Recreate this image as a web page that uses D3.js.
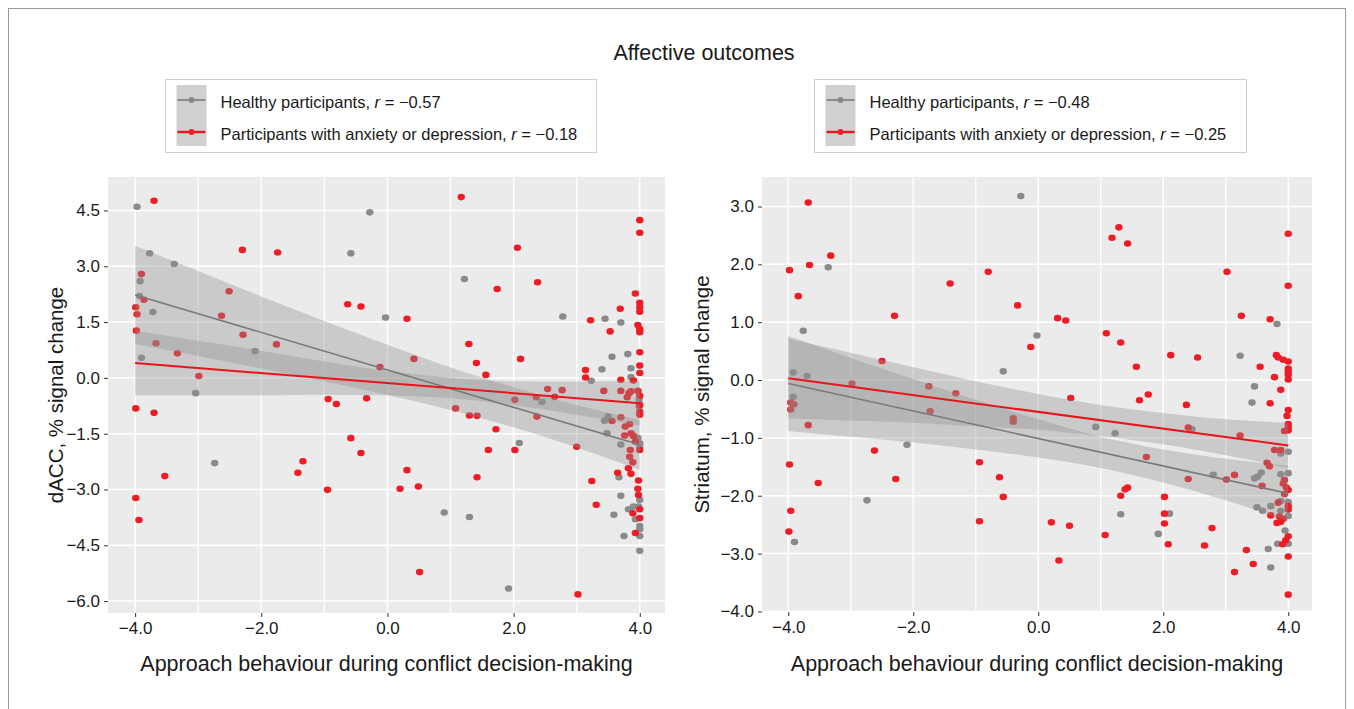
<!DOCTYPE html>
<html>
<head>
<meta charset="utf-8">
<script src="https://cdn.jsdelivr.net/npm/d3@7"></script>
<style>
  body { margin: 0; background: #fff; }
  svg text { font-family: "Liberation Sans", Arial, sans-serif; fill: #1a1a1a; }
</style>
</head>
<body>
<svg id="chart" width="1354" height="709"></svg>
<script>
// ---- data ----
const xTicks = [-4, -2, 0, 2, 4];
const xMinor = [-3, -1, 1, 3];
const leftYTicks = [4.5, 3.0, 1.5, 0.0, -1.5, -3.0, -4.5, -6.0];
const rightYTicks = [3.0, 2.0, 1.0, 0.0, -1.0, -2.0, -3.0, -4.0];

const leftHealthy = [
  [-3.97,4.60],[-3.77,3.35],[-3.38,3.06],[-3.92,2.60],[-3.93,2.20],[-3.72,1.77],[-3.90,0.54],
  [-3.04,-0.41],[-2.10,0.72],[-2.74,-2.29],[-0.28,4.45],[-0.58,3.35],[-0.03,1.62],[1.22,2.66],
  [2.78,1.65],[3.45,1.59],[3.70,1.49],[3.56,0.57],[3.81,0.64],[3.40,0.23],[3.86,0.26],[3.23,-0.08],
  [3.86,0.02],[3.99,-0.59],[3.99,-0.77],[2.45,-0.65],[3.50,-1.04],[3.44,-1.15],[3.97,-1.62],[4.0,-1.76],
  [4.0,-1.85],[3.70,-1.79],[3.48,-1.49],[2.09,-1.75],[3.67,-2.67],[4.0,-3.28],[3.98,-3.46],[3.70,-3.17],
  [3.90,-3.46],[3.82,-3.53],[3.59,-3.68],[3.93,-3.80],[4.0,-3.98],[4.0,-4.07],[4.0,-4.25],[3.75,-4.25],
  [4.0,-4.65],[0.90,-3.62],[1.30,-3.74],[1.92,-5.66]
];
const leftAnxiety = [
  [-3.70,4.76],[-2.30,3.44],[-1.74,3.37],[-3.90,2.79],[-3.86,2.10],[-3.99,1.90],[-3.97,1.71],[-3.98,1.27],
  [-3.67,0.93],[-3.33,0.66],[-2.99,0.05],[-3.99,-0.82],[-3.70,-0.94],[-2.51,2.33],[-2.63,1.67],[-2.29,1.16],
  [-1.76,0.90],[-0.63,1.98],[-0.42,1.92],[-0.12,0.29],[-0.94,-0.57],[-0.81,-0.70],[-0.33,-0.55],
  [1.17,4.86],[4.0,4.24],[4.0,3.90],[2.06,3.50],[1.74,2.39],[2.38,2.57],[0.31,1.59],[3.22,1.55],[3.69,1.86],
  [3.93,2.27],[4.0,2.02],[4.0,1.90],[4.0,1.78],[3.53,1.25],[3.97,1.42],[4.0,1.31],[4.0,1.23],[1.29,0.91],
  [0.42,0.51],[2.11,0.51],[1.41,0.40],[1.56,0.08],[4.0,0.69],[3.14,0.21],[3.14,0.01],[4.0,0.33],[4.0,0.13],
  [3.70,-0.05],[3.90,-0.07],[2.54,-0.30],[2.77,-0.33],[3.43,-0.35],[3.70,-0.35],[3.83,-0.41],[3.80,-0.52],
  [3.86,-0.36],[3.97,-0.35],[4.0,-0.48],[4.0,-0.73],[4.0,-0.91],[4.0,-0.99],[2.02,-0.59],[2.36,-0.52],
  [2.65,-0.51],[1.08,-0.82],[1.30,-1.01],[1.42,-1.02],[2.37,-1.04],[3.70,-1.06],[3.56,-1.16],[3.84,-1.24],
  [3.77,-1.31],[3.86,-1.49],[3.76,-1.55],[3.90,-1.56],[3.93,-1.71],[3.85,-1.94],[4.0,-1.94],[3.84,-2.12],
  [3.89,-2.27],[3.82,-2.43],[3.86,-2.58],[3.65,-2.55],[1.72,-1.38],[1.60,-1.94],[2.02,-1.94],[3.00,-1.85],
  [0.31,-2.48],[1.42,-2.67],[0.20,-2.98],[0.49,-2.92],[3.24,-2.77],[3.31,-3.41],[3.98,-2.76],[3.97,-2.98],
  [3.98,-3.15],[4.0,-3.53],[3.89,-3.64],[4.0,-3.77],[3.93,-4.17],[0.51,-5.22],[3.02,-5.82],[-0.58,-1.62],
  [-0.42,-2.02],[-1.34,-2.24],[-1.42,-2.55],[-3.53,-2.64],[-0.95,-3.01],[-3.99,-3.23],[-3.94,-3.82]
];
const rightHealthy = [
  [-0.28,3.18],[-3.36,1.95],[-3.76,0.85],[-0.56,0.15],[-3.92,0.13],[-3.70,0.07],[-3.92,-0.29],[-2.10,-1.12],
  [-2.74,-2.08],[-3.90,-2.80],[-0.02,0.77],[3.82,0.97],[3.23,0.42],[3.46,-0.11],[3.42,-0.39],[0.92,-0.81],
  [1.23,-0.92],[2.46,-0.85],[3.88,-1.27],[4.0,-1.24],[3.57,-1.60],[3.51,-1.67],[3.46,-1.70],[2.80,-1.64],
  [3.88,-1.63],[4.0,-1.61],[3.88,-2.09],[4.0,-2.11],[3.50,-2.20],[3.59,-2.26],[3.72,-2.18],[3.88,-2.26],
  [4.0,-2.35],[2.10,-2.31],[1.32,-2.32],[1.92,-2.66],[3.95,-2.60],[4.0,-2.83],[3.83,-2.83],[3.68,-2.92],
  [3.72,-3.24]
];
const rightAnxiety = [
  [-3.68,3.07],[-3.98,1.90],[-3.66,1.99],[-3.32,2.15],[-3.84,1.45],[-2.30,1.11],[-1.41,1.67],[-0.80,1.87],
  [-0.33,1.29],[-2.50,0.33],[-2.98,-0.06],[-1.75,-0.11],[-1.32,-0.23],[-3.96,-0.39],[-3.91,-0.42],[-3.96,-0.51],
  [-1.73,-0.54],[-0.40,-0.66],[-0.40,-0.72],[-3.68,-0.78],[-2.62,-1.22],[-3.98,-1.46],[-3.52,-1.78],[-2.28,-1.71],
  [-0.94,-1.42],[-0.62,-1.68],[-0.56,-2.02],[-0.94,-2.44],[-3.96,-2.26],[-3.99,-2.62],
  [1.29,2.64],[1.18,2.46],[1.43,2.36],[4.0,2.53],[3.02,1.87],[4.0,1.63],[0.31,1.07],[0.44,1.03],[-0.12,0.57],
  [1.09,0.81],[1.32,0.65],[3.25,1.11],[3.71,1.05],[1.57,0.23],[2.12,0.43],[2.55,0.39],[3.81,0.43],[3.84,0.39],
  [3.92,0.35],[4.0,0.32],[4.0,0.20],[4.0,0.14],[4.0,0.09],[4.0,0.01],[3.55,0.23],[3.78,0.05],[3.88,-0.17],
  [3.71,-0.40],[0.52,-0.31],[1.62,-0.35],[1.76,-0.25],[2.37,-0.43],[4.0,-0.52],[3.98,-0.62],[4.0,-0.76],
  [4.0,-0.82],[3.94,-0.88],[4.0,-0.87],[2.40,-0.82],[3.23,-0.96],[3.78,-1.21],[3.88,-1.21],[1.73,-1.33],
  [3.66,-1.43],[3.70,-1.49],[3.14,-1.64],[3.01,-1.72],[2.40,-1.71],[3.94,-1.73],[3.92,-1.79],[3.58,-1.83],
  [3.97,-1.86],[4.0,-1.90],[3.94,-1.97],[1.43,-1.86],[1.39,-1.89],[1.32,-2.00],[2.02,-2.02],[3.84,-2.12],
  [4.0,-2.18],[4.0,-2.24],[3.72,-2.34],[3.86,-2.36],[3.92,-2.40],[3.88,-2.45],[3.82,-2.47],[2.02,-2.31],
  [2.02,-2.48],[0.21,-2.46],[0.50,-2.52],[1.07,-2.68],[2.08,-2.84],[2.66,-2.86],[2.78,-2.56],[4.0,-2.70],
  [3.96,-2.77],[3.91,-2.84],[3.33,-2.94],[4.0,-3.05],[3.44,-3.18],[3.14,-3.32],[0.33,-3.12],[4.0,-3.71]
];

// regression fits (value at x = -4 and x = 4) and confidence bands
const fitX = [-4, 4];
const bandX = [-4, -3, -2, -1, 0, 1, 2, 3, 4];
const leftHealthyFit = [2.23, -1.80];
const leftHealthyUpper = [3.55, 2.87, 2.19, 1.53, 0.89, 0.28, -0.25, -0.73, -1.13];
const leftHealthyLower = [0.91, 0.59, 0.25, -0.09, -0.46, -0.86, -1.33, -1.87, -2.47];
const leftAnxietyFit = [0.40, -0.68];
const leftAnxietyUpper = [1.27, 1.00, 0.73, 0.44, 0.19, 0.00, -0.09, -0.10, -0.08];
const leftAnxietyLower = [-0.47, -0.47, -0.47, -0.45, -0.47, -0.55, -0.73, -0.99, -1.28];
const rightHealthyFit = [-0.06, -1.96];
const rightHealthyUpper = [0.76, 0.38, 0.02, -0.34, -0.68, -0.98, -1.20, -1.36, -1.48];
const rightHealthyLower = [-0.88, -0.98, -1.08, -1.20, -1.34, -1.52, -1.77, -2.08, -2.44];
const rightAnxietyFit = [0.03, -1.13];
const rightAnxietyUpper = [0.72, 0.47, 0.22, -0.02, -0.24, -0.43, -0.57, -0.68, -0.74];
const rightAnxietyLower = [-0.66, -0.70, -0.74, -0.80, -0.86, -0.97, -1.11, -1.30, -1.52];

const leftLegend = ["\u22120.57", "\u22120.18"];
const rightLegend = ["\u22120.48", "\u22120.25"];

const GREY_PT = "#8a8a8a", RED_PT = "#ee1c25", GREY_LN = "#7a7a7a", RED_LN = "#e8151d";
const fmt = v => d3.format(".1f")(v).replace("-", "\u2212");

const svg = d3.select("#chart");

// outer frame
svg.append("rect").attr("x", 8.5).attr("y", 8.5).attr("width", 1337).attr("height", 740)
  .attr("fill", "none").attr("stroke", "#9a9a9a").attr("stroke-width", 1);

svg.append("text").attr("x", 704).attr("y", 60).attr("text-anchor", "middle")
  .style("font-size", "21.5px").text("Affective outcomes");

function drawPanel(cfg) {
  const x = d3.scaleLinear().domain(cfg.xDomain).range([cfg.left, cfg.right]);
  const y = d3.scaleLinear().domain(cfg.yDomain).range([cfg.bottom, cfg.top]);
  const g = svg.append("g");

  g.append("rect").attr("x", cfg.left).attr("y", cfg.top)
    .attr("width", cfg.right - cfg.left).attr("height", cfg.bottom - cfg.top).attr("fill", "#ebebeb");

  g.selectAll(".gy").data(cfg.yTicks).enter().append("line")
    .attr("x1", cfg.left).attr("x2", cfg.right).attr("y1", d => y(d)).attr("y2", d => y(d))
    .attr("stroke", "#fff").attr("stroke-width", 1.5);
  g.selectAll(".gxm").data(xMinor).enter().append("line")
    .attr("y1", cfg.top).attr("y2", cfg.bottom).attr("x1", d => x(d)).attr("x2", d => x(d))
    .attr("stroke", "#fff").attr("stroke-width", 1.3);
  g.selectAll(".gx").data(xTicks).enter().append("line")
    .attr("y1", cfg.top).attr("y2", cfg.bottom).attr("x1", d => x(d)).attr("x2", d => x(d))
    .attr("stroke", "#fff").attr("stroke-width", 1.5);

  // points first, bands drawn over them
  const pts = g.append("g");
  pts.selectAll(".ph").data(cfg.healthy).enter().append("ellipse")
    .attr("cx", d => x(d[0])).attr("cy", d => y(d[1])).attr("rx", 3.7).attr("ry", 3.3).attr("fill", GREY_PT);
  pts.selectAll(".pa").data(cfg.anxiety).enter().append("ellipse")
    .attr("cx", d => x(d[0])).attr("cy", d => y(d[1])).attr("rx", 3.7).attr("ry", 3.3).attr("fill", RED_PT);

  const area = d3.area().x(d => x(d.x)).y0(d => y(d.lo)).y1(d => y(d.hi)).curve(d3.curveMonotoneX);
  [[cfg.hLower, cfg.hUpper], [cfg.aLower, cfg.aUpper]].forEach(([lo, hi]) => {
    g.append("path").datum(bandX.map((v, i) => ({x: v, lo: lo[i], hi: hi[i]})))
      .attr("d", area).attr("fill", "#8f8f8f").attr("fill-opacity", 0.36);
  });

  const line = d3.line().x(d => x(d[0])).y(d => y(d[1]));
  g.append("path").datum(fitX.map((v, i) => [v, cfg.hFit[i]])).attr("d", line)
    .attr("stroke", GREY_LN).attr("stroke-width", 1.6).attr("fill", "none");
  g.append("path").datum(fitX.map((v, i) => [v, cfg.aFit[i]])).attr("d", line)
    .attr("stroke", RED_LN).attr("stroke-width", 2).attr("fill", "none");

  // axes
  const xAxis = d3.axisBottom(x).tickValues(xTicks).tickFormat(fmt).tickSize(4).tickPadding(5);
  const yAxis = d3.axisLeft(y).tickValues(cfg.yTicks).tickFormat(fmt).tickSize(4).tickPadding(4);
  const ax = g.append("g").attr("transform", `translate(0,${cfg.bottom})`).call(xAxis);
  const ay = g.append("g").attr("transform", `translate(${cfg.left},0)`).call(yAxis);
  [ax, ay].forEach(a => {
    a.select(".domain").remove();
    a.selectAll(".tick line").attr("stroke", "#333");
    a.selectAll(".tick text").attr("fill", "#1a1a1a")
      .style("font-size", "17px").style("font-family", "Liberation Sans, Arial, sans-serif");
  });

  g.append("text").attr("x", (cfg.left + cfg.right) / 2).attr("y", 671).attr("text-anchor", "middle")
    .style("font-size", "21.5px").text("Approach behaviour during conflict decision-making");
  g.append("text").attr("transform", `translate(${cfg.yTitleX},${(cfg.top + cfg.bottom) / 2}) rotate(-90)`)
    .attr("text-anchor", "middle").style("font-size", "20.5px").text(cfg.yTitle);

  // legend
  const L = cfg.legend;
  g.append("rect").attr("x", L.x).attr("y", 79.5).attr("width", L.w).attr("height", 73)
    .attr("fill", "#fff").attr("stroke", "#cfcfcf");
  g.append("rect").attr("x", L.x + 11).attr("y", 85).attr("width", 30).attr("height", 61).attr("fill", "#d0d0d0");
  [[GREY_LN, GREY_PT, 100, "Healthy participants, ", L.r[0], 1.6],
   [RED_LN, RED_PT, 132, "Participants with anxiety or depression, ", L.r[1], 2.4]].forEach(k => {
    g.append("line").attr("x1", L.x + 12).attr("x2", L.x + 40).attr("y1", k[2]).attr("y2", k[2])
      .attr("stroke", k[0]).attr("stroke-width", k[5]);
    g.append("circle").attr("cx", L.x + 26).attr("cy", k[2]).attr("r", 3).attr("fill", k[1]);
    const t = g.append("text").attr("x", L.x + 55).attr("y", k[2] + 8).style("font-size", "16.5px");
    t.append("tspan").text(k[3]);
    t.append("tspan").style("font-style", "italic").text("r");
    t.append("tspan").text(" = " + k[4]);
  });
}

drawPanel({
  left: 108, right: 665, top: 177, bottom: 613,
  xDomain: [-4.43, 4.40], yDomain: [-6.32, 5.40], yTicks: leftYTicks,
  healthy: leftHealthy, anxiety: leftAnxiety,
  hFit: leftHealthyFit, hUpper: leftHealthyUpper, hLower: leftHealthyLower,
  aFit: leftAnxietyFit, aUpper: leftAnxietyUpper, aLower: leftAnxietyLower,
  yTitle: "dACC, % signal change", yTitleX: 63,
  legend: {x: 165.5, w: 431, r: leftLegend}
});

drawPanel({
  left: 762, right: 1312, top: 177, bottom: 612,
  xDomain: [-4.42, 4.38], yDomain: [-4.01, 3.51], yTicks: rightYTicks,
  healthy: rightHealthy, anxiety: rightAnxiety,
  hFit: rightHealthyFit, hUpper: rightHealthyUpper, hLower: rightHealthyLower,
  aFit: rightAnxietyFit, aUpper: rightAnxietyUpper, aLower: rightAnxietyLower,
  yTitle: "Striatum, % signal change", yTitleX: 709,
  legend: {x: 814.5, w: 432, r: rightLegend}
});
</script>
</body>
</html>
